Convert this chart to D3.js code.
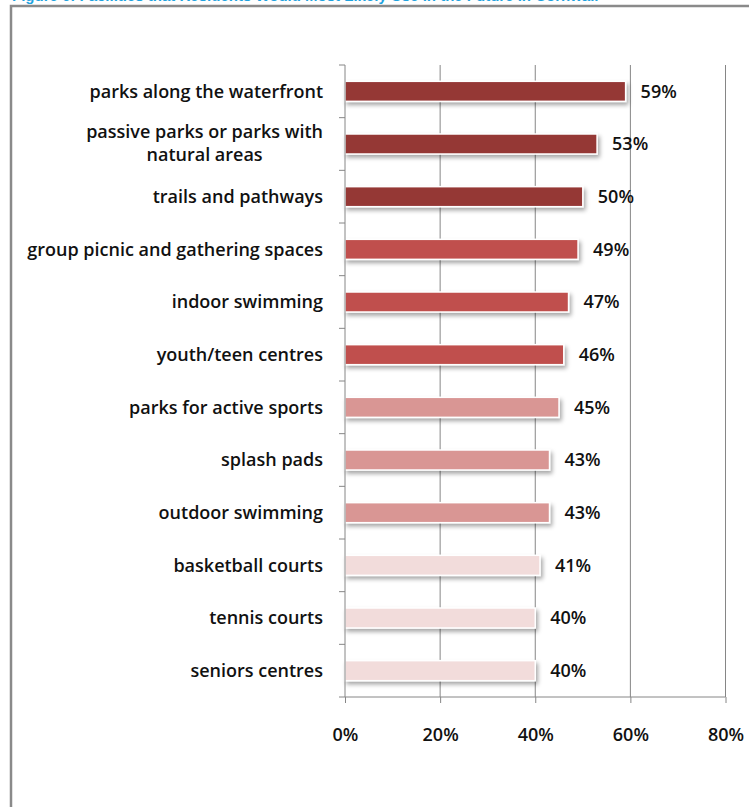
<!DOCTYPE html>
<html>
<head>
<meta charset="utf-8">
<script src="https://cdn.jsdelivr.net/npm/d3@7"></script>
<style>
  body { margin: 0; background: #fff; }
</style>
</head>
<body>
<div id="chart"></div>
<script>
// chart data
const categories = [
    "parks along the waterfront",
    "passive parks or parks with natural areas",
    "trails and pathways",
    "group picnic and gathering spaces",
    "indoor swimming",
    "youth/teen centres",
    "parks for active sports",
    "splash pads",
    "outdoor swimming",
    "basketball courts",
    "tennis courts",
    "seniors centres"
];
const values = [59, 53, 50, 49, 47, 46, 45, 43, 43, 41, 40, 40];
const barColors = [
    "#953735", "#953735", "#953735",
    "#c0504d", "#c0504d", "#c0504d",
    "#d99694", "#d99694", "#d99694",
    "#f2dcdb", "#f2dcdb", "#f2dcdb"
];
const xTicks = [0, 20, 40, 60, 80];
const titleText = "Figure 6: Facilities that Residents Would Most Likely Use in the Future in Cornwall";

const W = 749, H = 807;
const margin = {top: 65, left: 345, right: 24, bottom: 110};
const plotW = 725.5 - margin.left;
const plotH = 697 - margin.top;
const font = "'Open Sans', Lato, sans-serif";
const fontSize = "18px";

const svg = d3.select("#chart")
    .append("svg")
        .attr("width", W)
        .attr("height", H);

// drop shadow for bars
const defs = svg.append("defs");
const f = defs.append("filter")
    .attr("id", "shadow")
    .attr("x", "-5%").attr("y", "-30%")
    .attr("width", "115%").attr("height", "190%");
f.append("feDropShadow")
    .attr("dx", 2).attr("dy", 3)
    .attr("stdDeviation", 2)
    .attr("flood-color", "#000")
    .attr("flood-opacity", 0.35);

// caption, cut off at the top as in the source
svg.append("text")
    .attr("x", 12)
    .attr("y", 1)
    .attr("fill", "#1fa3e0")
    .style("font-family", "'Liberation Sans', Arial, sans-serif")
    .style("font-weight", "bold")
    .style("font-size", "15px")
    .text(titleText);

// outer box (only top and left edge visible)
svg.append("path")
    .attr("d", `M11,${H + 5} L11,6 L${W + 5},6`)
    .attr("fill", "none")
    .attr("stroke", "#8a8a8a")
    .attr("stroke-width", 2.5);

const g = svg.append("g")
    .attr("transform", `translate(${margin.left}, ${margin.top})`);

const x = d3.scaleLinear()
    .domain([0, 80])
    .range([0, plotW]);

const y = d3.scaleBand()
    .domain(categories)
    .range([0, plotH])
    .paddingInner(0.62)
    .paddingOuter(0.31);

const yStep = d3.scaleLinear()
    .domain([0, categories.length])
    .range([0, plotH]);

// gridlines
g.append("g")
    .selectAll("line")
    .data(xTicks.slice(1))
    .join("line")
        .attr("x1", d => x(d)).attr("x2", d => x(d))
        .attr("y1", 0).attr("y2", plotH)
        .attr("stroke", "#868686")
        .attr("stroke-width", 1);

// bars
g.append("g")
    .selectAll("rect")
    .data(categories)
    .join("rect")
        .attr("x", 0)
        .attr("y", d => y(d))
        .attr("width", (d, i) => x(values[i]))
        .attr("height", y.bandwidth())
        .attr("fill", (d, i) => barColors[i])
        .attr("stroke", "#fff")
        .attr("stroke-width", 1.5)
        .attr("filter", "url(#shadow)");

// x axis
const xAxis = g.append("g")
    .attr("transform", `translate(0, ${plotH})`)
    .call(d3.axisBottom(x)
        .tickValues(xTicks)
        .tickSize(6)
        .tickPadding(25)
        .tickFormat(d => d + "%"));
xAxis.select(".domain").attr("stroke", "#868686").attr("d", `M0,0H${plotW}`);
xAxis.selectAll(".tick line").attr("stroke", "#868686");
xAxis.selectAll(".tick text")
    .attr("fill", "#111")
    .style("font-family", font)
    .style("font-weight", 600)
    .style("font-size", fontSize);

// y axis line and ticks on category boundaries
g.append("line")
    .attr("x1", 0).attr("x2", 0)
    .attr("y1", 0).attr("y2", plotH)
    .attr("stroke", "#868686");
g.append("g")
    .selectAll("line")
    .data(d3.range(categories.length + 1))
    .join("line")
        .attr("x1", -6).attr("x2", 0)
        .attr("y1", d => yStep(d)).attr("y2", d => yStep(d))
        .attr("stroke", "#868686");

// category labels
const labelLines = {
    "passive parks or parks with natural areas": ["passive parks or parks with", "natural areas"]
};
const labels = g.append("g")
    .selectAll("text")
    .data(categories)
    .join("text")
        .attr("y", d => y(d) + y.bandwidth() / 2)
        .attr("fill", "#111")
        .style("font-family", font)
        .style("font-weight", 600)
        .style("font-size", fontSize);
labels.each(function(d) {
    const lines = labelLines[d] || [d];
    const t = d3.select(this);
    lines.forEach((line, k) => {
        t.append("tspan")
            .attr("dy", k === 0 ? `${0.35 - (lines.length - 1) * 0.68}em` : "1.3em")
            .attr("text-anchor", "end")
            .attr("x", -22)
            .text(line);
    });
    // the second line of a wrapped label is centred under the first
    if (lines.length > 1) {
        const first = t.select("tspan").node().getComputedTextLength();
        t.selectAll("tspan").filter((_, k) => k > 0)
            .attr("text-anchor", "middle")
            .attr("x", -22 - first / 2);
    }
});

// value labels
g.append("g")
    .selectAll("text")
    .data(categories)
    .join("text")
        .attr("x", (d, i) => x(values[i]) + 15)
        .attr("y", d => y(d) + y.bandwidth() / 2)
        .attr("dy", "0.35em")
        .attr("fill", "#111")
        .style("font-family", font)
        .style("font-weight", 600)
        .style("font-size", fontSize)
        .text((d, i) => values[i] + "%");
</script>
</body>
</html>
